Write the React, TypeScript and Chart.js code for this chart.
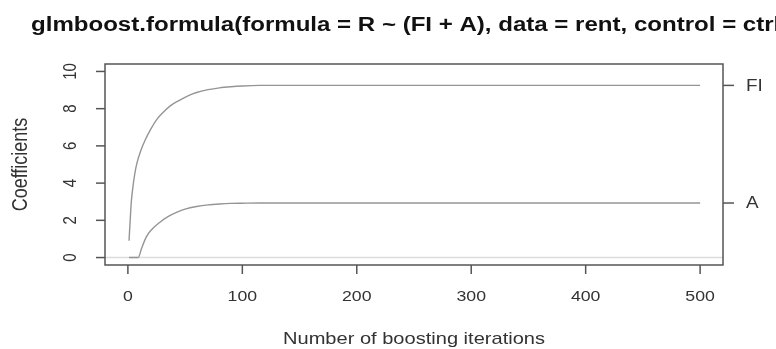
import React, { useEffect, useRef } from "react";
import { Chart, registerables } from "chart.js";

Chart.register(...registerables);

const titleText = "glmboost.formula(formula = R ~ (FI + A), data = rent, control = ctrl)";
const xTitle = "Number of boosting iterations";
const yTitle = "Coefficients";
const xTicks = [0, 100, 200, 300, 400, 500];
const yTicks = [0, 2, 4, 6, 8, 10];
const seriesNames = ["FI", "A"];

const iterFI = [1, 2, 3, 4, 6, 8, 11, 15, 20, 25, 30, 37, 45, 52, 60, 70, 80, 90, 100, 115, 500];
const valFI = [0.9, 2.0, 3.0, 3.6, 4.5, 5.1, 5.7, 6.3, 6.9, 7.4, 7.75, 8.15, 8.45, 8.68, 8.87, 9.02, 9.12, 9.18, 9.22, 9.25, 9.25];
const iterA = [1, 9, 12, 16, 20, 28, 35, 43, 50, 60, 70, 80, 90, 100, 115, 500];
const valA = [0, 0, 0.5, 1.1, 1.45, 1.9, 2.2, 2.44, 2.6, 2.74, 2.83, 2.88, 2.91, 2.92, 2.93, 2.93];

const FONT = "'Liberation Sans', Arial, sans-serif";
const SX = 1.18;

function drawText(ctx: any, text: string, x: number, y: number, rotate: boolean, sx: number = SX) {
  ctx.save();
  ctx.translate(x, y);
  ctx.scale(sx, 1);
  if (rotate) ctx.rotate(-Math.PI / 2);
  ctx.fillText(text, 0, 0);
  ctx.restore();
}

const rAxesPlugin = {
  id: "rAxes",
  beforeDatasetsDraw(chart: any) {
    const { ctx, chartArea, scales } = chart;
    const y0 = scales.y.getPixelForValue(0);
    ctx.save();
    ctx.strokeStyle = "#dcdcdc";
    ctx.lineWidth = 1.5;
    ctx.beginPath();
    ctx.moveTo(chartArea.left, y0);
    ctx.lineTo(chartArea.right, y0);
    ctx.stroke();
    ctx.restore();
  },
  afterDraw(chart: any) {
    const { ctx, chartArea, scales } = chart;
    const { left, right, top, bottom } = chartArea;
    const xs = scales.x;
    const ys = scales.y;
    ctx.save();
    ctx.strokeStyle = "#555";
    ctx.lineWidth = 1.5;
    ctx.strokeRect(left, top, right - left, bottom - top);

    const tl = 9;
    ctx.fillStyle = "#333";
    ctx.font = "15px " + FONT;
    ctx.textAlign = "center";
    ctx.textBaseline = "middle";
    xTicks.forEach((v) => {
      const px = xs.getPixelForValue(v);
      ctx.beginPath();
      ctx.moveTo(px, bottom);
      ctx.lineTo(px, bottom + tl);
      ctx.stroke();
      drawText(ctx, String(v), px, bottom + 32, false);
    });
    yTicks.forEach((v) => {
      const py = ys.getPixelForValue(v);
      ctx.beginPath();
      ctx.moveTo(left, py);
      ctx.lineTo(left - tl, py);
      ctx.stroke();
      drawText(ctx, String(v), left - 34, py, true);
    });
    const finals = [valFI[valFI.length - 1], valA[valA.length - 1]];
    ctx.textAlign = "left";
    ctx.font = "16px " + FONT;
    finals.forEach((v, i) => {
      const py = ys.getPixelForValue(v);
      ctx.beginPath();
      ctx.moveTo(right, py);
      ctx.lineTo(right + tl + 2, py);
      ctx.stroke();
      drawText(ctx, seriesNames[i], right + 23, py + 1, false);
    });
    ctx.textAlign = "center";
    ctx.font = "17px " + FONT;
    drawText(ctx, xTitle, (left + right) / 2, bottom + 74, false);
    ctx.font = "18px " + FONT;
    drawText(ctx, yTitle, 21, (top + bottom) / 2, true);
    ctx.fillStyle = "#111";
    ctx.font = "bold 20px " + FONT;
    ctx.textAlign = "left";
    ctx.textBaseline = "alphabetic";
    drawText(ctx, titleText, 31, 31, false, 1.203);
    ctx.restore();
  },
};

export default function App() {
  const ref = useRef<HTMLCanvasElement | null>(null);
  useEffect(() => {
    document.body.style.margin = "0";
    const canvas = ref.current!;
    const chart = new Chart(canvas, {
      type: "scatter",
      data: {
        datasets: [
          {
            label: "FI",
            data: iterFI.map((x, i) => ({ x, y: valFI[i] })),
            showLine: true,
            borderColor: "#959595",
            borderWidth: 1.4,
            pointRadius: 0,
            cubicInterpolationMode: "monotone",
          },
          {
            label: "A",
            data: iterA.map((x, i) => ({ x, y: valA[i] })),
            showLine: true,
            borderColor: "#959595",
            borderWidth: 1.4,
            pointRadius: 0,
            cubicInterpolationMode: "monotone",
          },
        ],
      },
      options: {
        animation: false,
        responsive: false,
        layout: { padding: { left: 105, top: 64, right: 53, bottom: 84 } },
        plugins: { legend: { display: false }, tooltip: { enabled: false }, title: { display: false } },
        scales: {
          x: { type: "linear", min: -20, max: 520, display: false },
          y: { type: "linear", min: -0.4, max: 10.4, display: false },
        },
      },
      plugins: [rAxesPlugin],
    } as any);
    return () => chart.destroy();
  }, []);
  return (
    <div style={{ width: 776, height: 349, background: "#fff" }}>
      <canvas ref={ref} width={776} height={349} style={{ display: "block" }} />
    </div>
  );
}
